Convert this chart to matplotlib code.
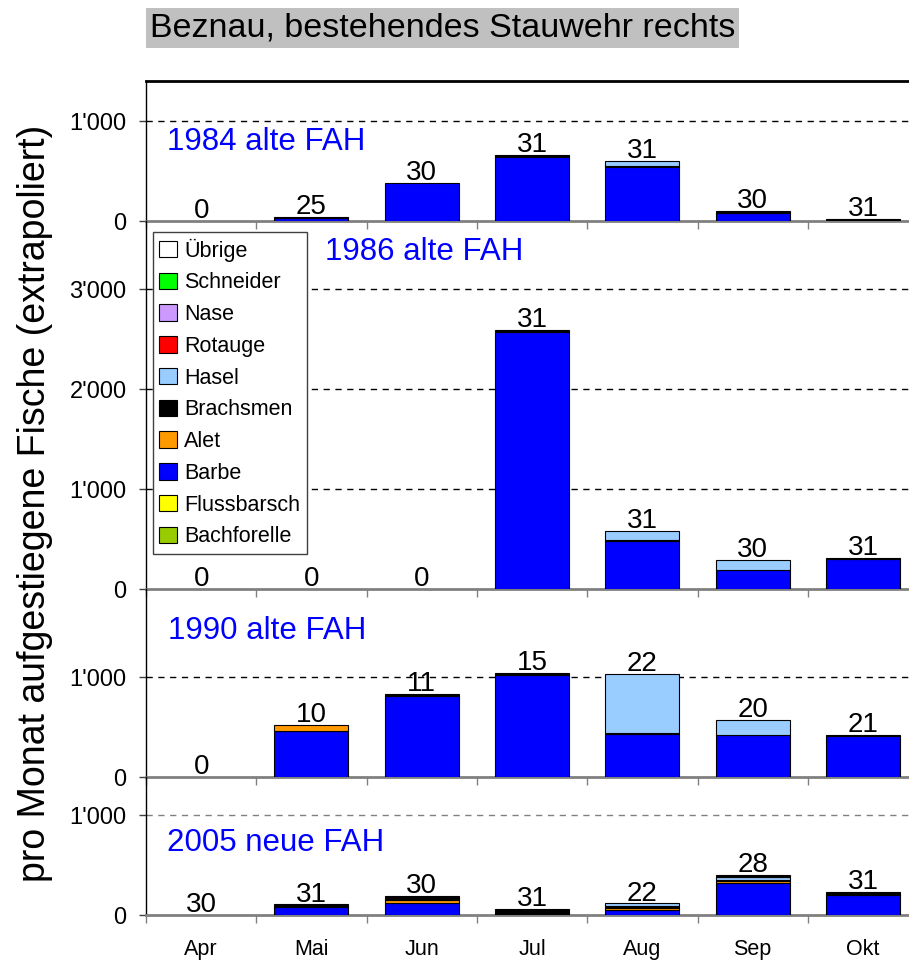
import matplotlib
matplotlib.use('Agg')
import matplotlib.pyplot as plt
from matplotlib.patches import Patch
import numpy as np

plt.rcParams['font.family'] = ['Liberation Sans', 'DejaVu Sans']

months = ['Apr', 'Mai', 'Jun', 'Jul', 'Aug', 'Sep', 'Okt']

# stack order, bottom to top
species = ['Bachforelle', 'Flussbarsch', 'Barbe', 'Alet', 'Brachsmen',
           'Hasel', 'Rotauge', 'Nase', 'Schneider', 'Übrige']
colors = ['#99CC00', '#FFFF00', '#0000FF', '#FF9900', '#000000',
          '#99CCFF', '#FF0000', '#CC99FF', '#00FF00', '#FFFFFF']

# 1984 alte FAH
barbe_1984 = [0, 35, 380, 645, 545, 85, 0]
brachsmen_1984 = [0, 5, 0, 20, 5, 15, 25]
hasel_1984 = [0, 0, 0, 0, 55, 0, 0]
days_1984 = [0, 25, 30, 31, 31, 30, 31]

# 1986 alte FAH
barbe_1986 = [0, 0, 0, 2570, 480, 190, 300]
brachsmen_1986 = [0, 0, 0, 20, 15, 0, 10]
hasel_1986 = [0, 0, 0, 0, 85, 100, 0]
days_1986 = [0, 0, 0, 31, 31, 30, 31]

# 1990 alte FAH
barbe_1990 = [0, 465, 810, 1020, 430, 425, 410]
alet_1990 = [0, 60, 0, 0, 0, 0, 0]
brachsmen_1990 = [0, 0, 20, 20, 15, 0, 10]
hasel_1990 = [0, 0, 0, 0, 585, 150, 0]
days_1990 = [0, 10, 11, 15, 22, 20, 21]

# 2005 neue FAH
barbe_2005 = [0, 77, 123, 5, 52, 320, 200]
alet_2005 = [0, 18, 30, 0, 22, 20, 0]
brachsmen_2005 = [0, 5, 40, 60, 18, 15, 33]
hasel_2005 = [0, 7, 0, 0, 25, 25, 0]
schneider_2005 = [0, 0, 0, 0, 0, 12, 0]
uebrige_2005 = [0, 0, 0, 0, 0, 8, 0]
days_2005 = [30, 31, 30, 31, 22, 28, 31]

panels = [
    ('1984 alte FAH', {'Barbe': barbe_1984, 'Brachsmen': brachsmen_1984,
                       'Hasel': hasel_1984}, days_1984, 1400, [0, 1000]),
    ('1986 alte FAH', {'Barbe': barbe_1986, 'Brachsmen': brachsmen_1986,
                       'Hasel': hasel_1986}, days_1986, 3680, [0, 1000, 2000, 3000]),
    ('1990 alte FAH', {'Barbe': barbe_1990, 'Alet': alet_1990,
                       'Brachsmen': brachsmen_1990, 'Hasel': hasel_1990},
     days_1990, 1880, [0, 1000]),
    ('2005 neue FAH', {'Barbe': barbe_2005, 'Alet': alet_2005,
                       'Brachsmen': brachsmen_2005, 'Hasel': hasel_2005,
                       'Schneider': schneider_2005, 'Übrige': uebrige_2005},
     days_2005, 1380, [0, 1000]),
]
label_pos = [(-0.31, 790), (1.12, 3370), (-0.30, 1460), (-0.31, 720)]

fig = plt.figure(figsize=(9.09, 9.63), dpi=100)
gs = fig.add_gridspec(4, 1, left=146/909, right=1.0, top=1-81/963,
                      bottom=1-915/963, hspace=0,
                      height_ratios=[p[3] for p in panels])

x = np.arange(len(months))
for k, (name, data, days, ymax, yticks) in enumerate(panels):
    ax = fig.add_subplot(gs[k])
    ax.patch.set_visible(False)
    bottom = np.zeros(len(months))
    for sp, col in zip(species, colors):
        vals = np.array(data.get(sp, [0]*len(months)), dtype=float)
        m = vals > 0
        if m.any():
            ax.bar(x[m], vals[m], bottom=bottom[m], width=0.67, color=col,
                   edgecolor='black', linewidth=0.8, zorder=3)
        bottom += vals
    for i, d in enumerate(days):
        ax.annotate(str(d), (x[i], bottom[i]), xytext=(0, 2),
                    textcoords='offset points', ha='center', va='baseline',
                    fontsize=20, zorder=4)

    ax.set_xlim(-0.5, -0.5 + 763/110.3)
    ax.set_ylim(0, ymax)
    for t in yticks[1:]:
        ax.axhline(t, color='#808080' if k == 3 else 'black', lw=1,
                   dashes=(4.5, 4), zorder=1)
    ax.set_yticks(yticks)
    ax.set_yticklabels([f"{t:,}".replace(',', "'") for t in yticks])
    ax.tick_params(axis='y', direction='out', length=5, width=1,
                   color='#404040', labelsize=17, pad=9)

    ax.set_xticks(np.arange(-0.5, 6.0, 1.0))
    ax.set_xticks(x, minor=True)
    ax.tick_params(axis='x', which='major', direction='out', length=6,
                   width=1, color='#808080', labelbottom=False)
    ax.tick_params(axis='x', which='minor', length=0)
    if k == 3:
        ax.set_xticklabels(months, minor=True)
        ax.tick_params(axis='x', which='minor', labelsize=15.5, pad=17)
    else:
        ax.tick_params(axis='x', which='minor', labelbottom=False)

    ax.spines['right'].set_visible(False)
    ax.spines['left'].set_color('black')
    ax.spines['left'].set_linewidth(1)
    ax.spines['bottom'].set_color('#808080')
    ax.spines['bottom'].set_linewidth(2)
    if k == 0:
        ax.spines['top'].set_color('black')
        ax.spines['top'].set_linewidth(2)
    else:
        ax.spines['top'].set_visible(False)

    lx, ly = label_pos[k]
    ax.text(lx, ly, name, color='#0000FF', fontsize=22.5, va='center',
            ha='left', zorder=5)

fig.text(150/909, 1-28/963, 'Beznau, bestehendes Stauwehr rechts',
         fontsize=24.5, va='center', ha='left',
         bbox=dict(boxstyle='square,pad=0.12', fc='#C0C0C0', ec='none'))
fig.text(35/909, 1-503/963, 'pro Monat aufgestiegene Fische (extrapoliert)',
         fontsize=27, rotation=90, va='center', ha='center')

handles = [Patch(facecolor=c, edgecolor='black', linewidth=0.8)
           for c in colors[::-1]]
leg = fig.legend(handles, species[::-1], loc='upper left',
                 bbox_to_anchor=(153/909, 1-232/963), fontsize=15.5,
                 frameon=True, fancybox=False, framealpha=1,
                 edgecolor='#404040', handlelength=0.8, handleheight=0.8,
                 handletextpad=0.35, labelspacing=0.5, borderpad=0.3,
                 borderaxespad=0)
leg.get_frame().set_linewidth(1)

fig.savefig('out.png', dpi=100)
